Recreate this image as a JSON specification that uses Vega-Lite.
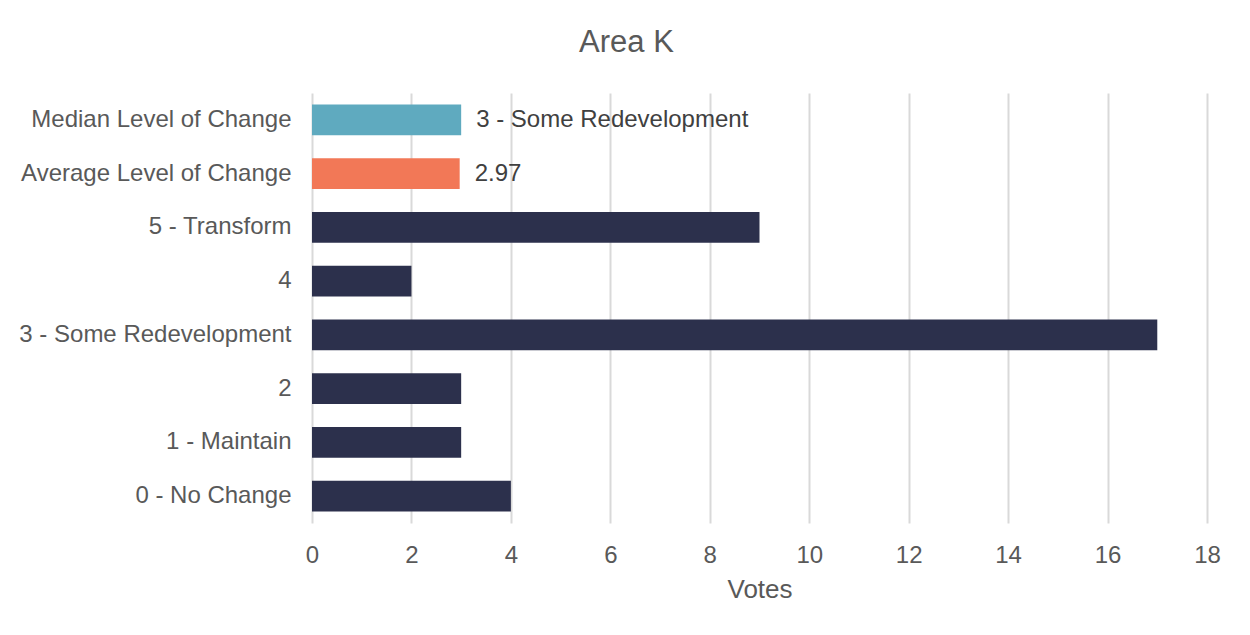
{
  "$schema": "https://vega.github.io/schema/vega-lite/v6.json",
  "autosize": "none",
  "width": 895,
  "height": 430,
  "padding": {"left": 312, "top": 93, "right": 43, "bottom": 112},
  "background": "white",
  "title": {
    "text": "Area K",
    "anchor": "middle",
    "frame": "group",
    "dx": -133,
    "offset": 34,
    "font": "Arial",
    "fontSize": 31,
    "fontWeight": "normal",
    "color": "#595959"
  },
  "data": {
    "values": [
      {"category": "Median Level of Change", "votes": 3, "kind": "median", "label": "3 - Some Redevelopment"},
      {"category": "Average Level of Change", "votes": 2.97, "kind": "average", "label": "2.97"},
      {"category": "5 - Transform", "votes": 9, "kind": "votes", "label": ""},
      {"category": "4", "votes": 2, "kind": "votes", "label": ""},
      {"category": "3 - Some Redevelopment", "votes": 17, "kind": "votes", "label": ""},
      {"category": "2", "votes": 3, "kind": "votes", "label": ""},
      {"category": "1 - Maintain", "votes": 3, "kind": "votes", "label": ""},
      {"category": "0 - No Change", "votes": 4, "kind": "votes", "label": ""}
    ]
  },
  "encoding": {
    "y": {
      "field": "category",
      "type": "nominal",
      "sort": ["Median Level of Change", "Average Level of Change", "5 - Transform", "4", "3 - Some Redevelopment", "2", "1 - Maintain", "0 - No Change"],
      "scale": {"paddingInner": 0.424, "paddingOuter": 0.212},
      "axis": {
        "title": null,
        "domain": false,
        "ticks": false,
        "tickSize": 0,
        "labelPadding": 21,
        "labelFont": "Arial",
        "labelFontSize": 24,
        "labelColor": "#595959",
        "labelLimit": 400
      }
    },
    "x": {
      "field": "votes",
      "type": "quantitative",
      "scale": {"domain": [0, 18], "nice": false},
      "axis": {
        "title": "Votes",
        "values": [0, 2, 4, 6, 8, 10, 12, 14, 16, 18],
        "domain": false,
        "ticks": false,
        "tickSize": 0,
        "labelFlush": false,
        "labelOverlap": false,
        "labelPadding": 20,
        "labelFont": "Arial",
        "labelFontSize": 24,
        "labelColor": "#595959",
        "titleFont": "Arial",
        "titleFontSize": 26,
        "titleFontWeight": "normal",
        "titleColor": "#595959",
        "titlePadding": 9,
        "grid": true,
        "gridColor": "#D9D9D9",
        "gridWidth": 2
      }
    }
  },
  "layer": [
    {
      "mark": {"type": "bar"},
      "encoding": {
        "color": {
          "field": "kind",
          "type": "nominal",
          "scale": {"domain": ["median", "average", "votes"], "range": ["#5FAABF", "#F27857", "#2C304C"]},
          "legend": null
        }
      }
    },
    {
      "mark": {
        "type": "text",
        "align": "left",
        "baseline": "middle",
        "dx": 15,
        "font": "Arial",
        "fontSize": 24,
        "color": "#404040"
      },
      "encoding": {
        "text": {"field": "label"}
      }
    }
  ],
  "config": {
    "view": {"stroke": null}
  }
}
